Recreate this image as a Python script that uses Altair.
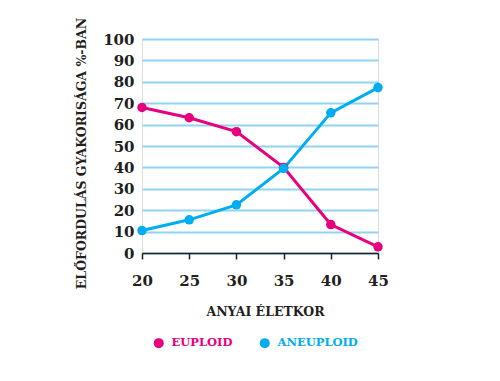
import altair as alt
import pandas as pd

ages = [20, 25, 30, 35, 40, 45]
euploid = [68, 63.2, 56.7, 40, 13.3, 2.9]
aneuploid = [10.5, 15.5, 22.5, 39.5, 65.5, 77.3]
series = ["EUPLOID", "ANEUPLOID"]
colors = ["#e6007e", "#00aeef"]
y_ticks = [0, 10, 20, 30, 40, 50, 60, 70, 80, 90, 100]
x_ticks = [20, 25, 30, 35, 40, 45]

rows = []
for a, e, n in zip(ages, euploid, aneuploid):
    rows.append({"age": a, "value": e, "series": series[0]})
    rows.append({"age": a, "value": n, "series": series[1]})
df = pd.DataFrame(rows)

FONT = "DejaVu Serif"

x = alt.X("age:Q",
          scale=alt.Scale(domain=[20, 45], nice=False, zero=False),
          axis=alt.Axis(values=x_ticks, title="ANYAI ÉLETKOR", grid=False,
                        domainColor="#231f20", domainWidth=1.5,
                        tickColor="#231f20", tickWidth=1.5, tickSize=6,
                        labelFont=FONT, labelFontSize=15, labelFontWeight="bold",
                        labelColor="#231f20", labelPadding=14, labelFlush=False,
                        titleFont=FONT, titleFontSize=12.5, titleFontWeight="bold",
                        titleColor="#231f20", titleX=123, titleY=62,
                        titleBaseline="alphabetic"))
y = alt.Y("value:Q",
          scale=alt.Scale(domain=[0, 100], nice=False),
          axis=alt.Axis(values=y_ticks, title="ELŐFORDULÁS GYAKORISÁGA %-BAN",
                        domain=False, ticks=False, grid=True,
                        gridColor="#8fd4f2", gridWidth=1.8,
                        labelFont=FONT, labelFontSize=15, labelFontWeight="bold",
                        labelColor="#231f20", labelPadding=8,
                        titleFont=FONT, titleFontSize=12.5, titleFontWeight="bold",
                        titleColor="#231f20", titleX=-57, titleY=114,
                        titleBaseline="alphabetic"))
color = alt.Color("series:N",
                  scale=alt.Scale(domain=series, range=colors),
                  legend=alt.Legend(title=None, orient="none", direction="horizontal",
                                    legendX=11, legendY=298,
                                    symbolType="circle", symbolSize=100,
                                    symbolStrokeWidth=0, symbolOpacity=1,
                                    labelFont=FONT, labelFontSize=11.5,
                                    labelFontWeight="bold", labelOffset=7,
                                    columnPadding=26,
                                    labelColor=alt.ExprRef(
                                        "datum.label == 'EUPLOID' ? '#e6007e' : '#00aeef'")))

base = alt.Chart(df).encode(x=x, y=y, color=color, detail="series:N")
lines = base.mark_line(strokeWidth=3)
points = base.mark_circle(size=90, opacity=1)

chart = (lines + points).properties(
    width=236, height=214,
    autosize=alt.AutoSizeParams(type="none"),
    padding={"left": 134, "top": 31, "right": 110, "bottom": 110},
).configure_view(stroke=None).configure(background="white")

chart.save("out.html", embed_options={"renderer": "svg", "actions": False})
